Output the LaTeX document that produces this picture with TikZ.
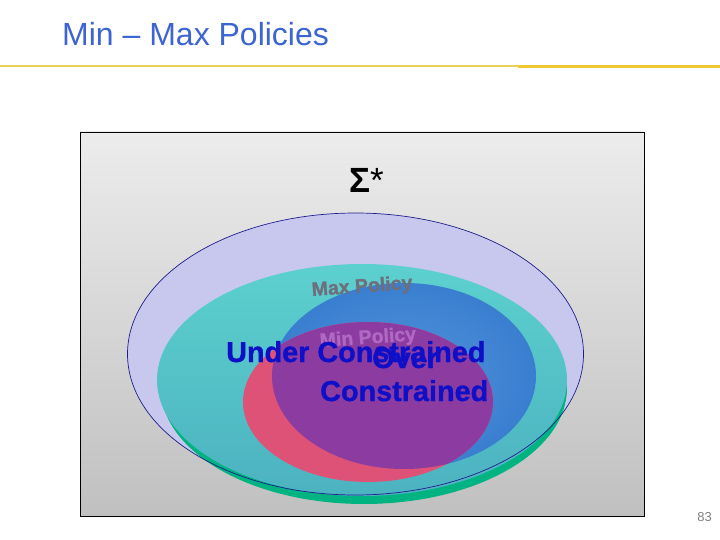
\documentclass[tikz,border=0pt]{standalone}
\usepackage{fontspec}
\setmainfont{Liberation Sans}
\newfontfamily\heavyfont[BoldFeatures={FakeBold=1.2}]{Liberation Sans}
\definecolor{titleblue}{RGB}{60,100,210}
\definecolor{lineyellowA}{RGB}{232,208,90}
\definecolor{lineyellowB}{RGB}{240,200,50}
\definecolor{bgtop}{RGB}{236,236,236}
\definecolor{bgbot}{RGB}{192,192,192}
\definecolor{lavender}{RGB}{200,200,238}
\definecolor{outline}{RGB}{30,30,140}
\definecolor{tealtop}{RGB}{92,208,206}
\definecolor{tealbot}{RGB}{76,178,192}
\definecolor{shadowgreen}{RGB}{0,180,130}
\definecolor{maxblue}{RGB}{58,126,208}
\definecolor{maxbluein}{RGB}{80,148,218}
\definecolor{minpink}{RGB}{222,82,120}
\definecolor{overpurple}{RGB}{140,60,160}
\definecolor{labelblue}{RGB}{15,15,200}
\definecolor{maxgray}{RGB}{110,110,125}
\definecolor{minfaint}{RGB}{175,105,195}
\tikzset{
  bigbold/.style={font=\fontsize{28.8}{28.8}\heavyfont\bfseries, text=labelblue, inner sep=0pt, anchor=base west},
  setname/.style={font=\fontsize{19.5}{19.5}\heavyfont\bfseries, inner sep=0pt, anchor=base west, rotate=4},
}
\begin{document}
\begin{tikzpicture}[x=1pt,y=-1pt]
\useasboundingbox (0,0) rectangle (720,540);
% title
\node[font=\fontsize{32}{32}\selectfont, text=titleblue, inner sep=0pt, anchor=base west] (title) at (62,46) {Min – Max Policies};
\draw[lineyellowA, line width=2pt] (0,66) -- (518,66);
\draw[lineyellowB, line width=3pt] (518,66.5) -- (720,66.5);
% background box
\shade[top color=bgtop, bottom color=bgbot] (80,132) rectangle (644,516);
\draw[black, line width=0.8pt] (80,132) rectangle (644,516);
% sigma star
\node[font=\fontsize{35}{35}\selectfont, inner sep=0pt, anchor=base west] (sigma) at (349,193) {\textbf{Σ}*};
% outer ellipse fill
\fill[lavender] (355.5,354) ellipse [x radius=228pt, y radius=141pt];
% shadow
\fill[shadowgreen] (364,388) ellipse [x radius=203pt, y radius=116pt];
% teal
\shade[top color=tealtop, bottom color=tealbot] (362,380) ellipse [x radius=205pt, y radius=116pt];
% max policy (blue)
\shade[inner color=maxbluein, outer color=maxblue] (404,376) ellipse [x radius=132pt, y radius=93pt];
% min policy (pink)
\fill[minpink] (368,402) ellipse [x radius=125pt, y radius=80pt];
\begin{scope}
  \clip (404,376) ellipse [x radius=132pt, y radius=93pt];
  \fill[overpurple] (368,402) ellipse [x radius=125pt, y radius=80pt];
\end{scope}
% outer outline on top
\draw[outline, line width=0.7pt] (355.5,354) ellipse [x radius=228pt, y radius=141pt];
% labels
\node[setname, text=maxgray] (maxp) at (312,296) {Max Policy};
\node[setname, text=minfaint] (minp) at (320,347) {Min Policy};
\node[bigbold] (under) at (226,362) {Under Constrained};
\node[bigbold] (over) at (372,368) {Over};
\node[bigbold] (constr) at (320,401) {Constrained};
% page number
\node[font=\fontsize{13}{13}\selectfont, text=black!50, inner sep=0pt, anchor=base east] (page) at (712,521) {83};
\end{tikzpicture}
\end{document}
